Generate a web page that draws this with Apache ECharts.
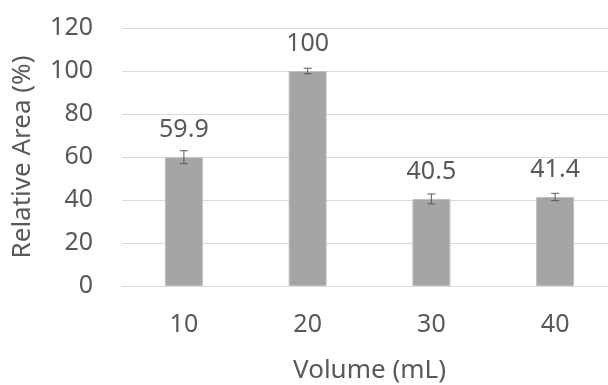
<!DOCTYPE html>
<html><head><meta charset="utf-8">
<script src="https://cdn.jsdelivr.net/npm/echarts@6/dist/echarts.min.js"></script>
<style>html,body{margin:0;padding:0;background:#fff}#c{width:608px;height:385px}</style>
</head><body><div id="c"></div>
<script>
const categories = ['10', '20', '30', '40'];
const values = [59.9, 100, 40.5, 41.4];
const errors = [3.0, 1.3, 2.3, 1.7];
const yTicks = [0, 20, 40, 60, 80, 100, 120];

const font = '"Noto Sans", "Open Sans", sans-serif';
const txt = '#595959';
const chart = echarts.init(document.getElementById('c'), null, {renderer: 'canvas'});
chart.setOption({
  animation: false,
  backgroundColor: '#fff',
  grid: {left: 122, right: -9, top: 28, bottom: 99, containLabel: false, outerBoundsMode: 'none'},
  xAxis: {
    type: 'category', data: categories,
    axisLine: {show: true, lineStyle: {color: '#d9d9d9', width: 1}},
    axisTick: {show: false},
    axisLabel: {color: txt, fontSize: 25, fontFamily: font, margin: 26},
    name: 'Volume (mL)', nameLocation: 'middle', nameGap: 72,
    nameTextStyle: {color: txt, fontSize: 26, fontFamily: font}
  },
  yAxis: {
    type: 'value', min: yTicks[0], max: yTicks[yTicks.length - 1], interval: 20,
    axisLine: {show: false}, axisTick: {show: false},
    splitLine: {lineStyle: {color: '#d9d9d9', width: 1}},
    axisLabel: {color: txt, fontSize: 25, fontFamily: font, margin: 29},
    name: 'Relative Area (%)', nameLocation: 'middle', nameGap: 86,
    nameTextStyle: {color: txt, fontSize: 26, fontFamily: font}
  },
  series: [{
    type: 'bar', data: values, barWidth: 38,
    itemStyle: {color: '#a5a5a5', borderColor: '#c0c0c0', borderWidth: 1},
    label: {show: true, position: 'top', distance: 15, color: txt, fontSize: 25, fontFamily: font,
      formatter: p => String(p.value)}
  }, {
    type: 'custom',
    data: values.map((v, i) => [i, v, errors[i]]),
    renderItem: function (params, api) {
      const x = api.value(0), v = api.value(1), e = api.value(2);
      const hi = api.coord([x, v + e]);
      const lo = api.coord([x, v - e]);
      const w = 4;
      const st = {stroke: '#595959', lineWidth: 1};
      return {type: 'group', children: [
        {type: 'line', shape: {x1: hi[0], y1: hi[1], x2: lo[0], y2: lo[1]}, style: st},
        {type: 'line', shape: {x1: hi[0] - w, y1: hi[1], x2: hi[0] + w, y2: hi[1]}, style: st},
        {type: 'line', shape: {x1: lo[0] - w, y1: lo[1], x2: lo[0] + w, y2: lo[1]}, style: st}
      ]};
    },
    z: 5
  }]
});
</script></body></html>
